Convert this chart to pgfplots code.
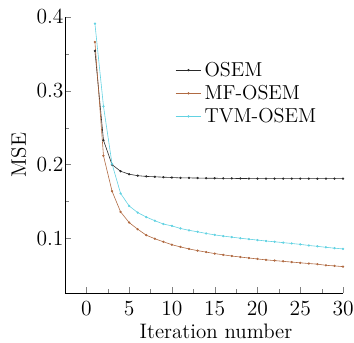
\documentclass[border=0pt]{standalone}
\usepackage{pgfplots}
\pgfplotsset{compat=1.18}
\definecolor{osem}{HTML}{2A2A2A}
\definecolor{mf}{HTML}{B06A42}
\definecolor{tvm}{HTML}{62D2E2}
\begin{document}
\begin{tikzpicture}
\begin{axis}[
  name=ax,
  scale only axis,
  width=185.3bp, height=184bp,
  axis lines*=left,
  tick align=inside,
  xmin=-2.5, xmax=30, ymin=0.026, ymax=0.4,
  xtick={0,5,10,15,20,25,30},
  ytick={0.1,0.2,0.3,0.4},
  minor x tick num=1, minor y tick num=1,
  yticklabel style={/pgf/number format/fixed,/pgf/number format/precision=1, xshift=2.5bp},
  xticklabel style={yshift=-2bp},
  tick label style={font=\fontsize{13.5}{16}\selectfont},
  label style={font=\fontsize{14}{17}\selectfont},
  xlabel={Iteration number}, ylabel={MSE},
  xlabel style={xshift=8bp, yshift=1bp},
  legend style={at={(0.38,0.86)}, anchor=north west, draw=none, fill=none, font=\fontsize{13.5}{16}\selectfont, row sep=0.5pt},
  legend cell align=left,
  every axis plot/.append style={line width=0.4pt, mark=*, mark size=0.55pt},
]
\addplot[color=osem] coordinates {
(1,0.354)(2,0.233)(3,0.200)(4,0.191)(5,0.187)(6,0.185)(7,0.184)(8,0.1835)(9,0.183)(10,0.1825)
(11,0.182)(12,0.182)(13,0.1818)(14,0.1816)(15,0.1815)(16,0.1814)(17,0.1813)(18,0.1812)(19,0.1811)(20,0.1811)
(21,0.181)(22,0.181)(23,0.181)(24,0.181)(25,0.181)(26,0.181)(27,0.181)(28,0.181)(29,0.181)(30,0.181)};
\addlegendentry{OSEM}
\addplot[color=mf] coordinates {
(1,0.366)(2,0.212)(3,0.164)(4,0.136)(5,0.1215)(6,0.1125)(7,0.1044)(8,0.0996)(9,0.0955)(10,0.0915)
(11,0.0885)(12,0.0858)(13,0.0835)(14,0.0815)(15,0.0795)(16,0.0778)(17,0.0762)(18,0.0748)(19,0.0735)(20,0.0722)
(21,0.071)(22,0.070)(23,0.069)(24,0.068)(25,0.067)(26,0.066)(27,0.0652)(28,0.0636)(29,0.0628)(30,0.0618)};
\addlegendentry{MF-OSEM}
\addplot[color=tvm] coordinates {
(1,0.391)(2,0.279)(3,0.201)(4,0.161)(5,0.144)(6,0.135)(7,0.129)(8,0.124)(9,0.1195)(10,0.117)
(11,0.1135)(12,0.111)(13,0.109)(14,0.1068)(15,0.1048)(16,0.1032)(17,0.1018)(18,0.1003)(19,0.099)(20,0.0978)
(21,0.0965)(22,0.0955)(23,0.0943)(24,0.0932)(25,0.092)(26,0.0905)(27,0.0893)(28,0.088)(29,0.0868)(30,0.0858)};
\addlegendentry{TVM-OSEM}
\end{axis}
\pgfresetboundingbox
\path ([shift={(-43.3bp,-32.7bp)}]ax.south west) rectangle ([shift={(7.3bp,11.3bp)}]ax.north east);
\end{tikzpicture}
\end{document}
